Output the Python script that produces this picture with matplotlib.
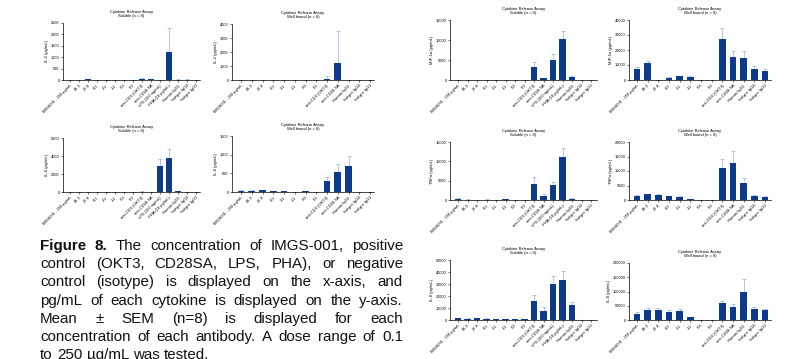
import matplotlib
matplotlib.use("Agg")
import matplotlib.pyplot as plt
import numpy as np

plt.rcParams['font.family'] = ['Liberation Sans', 'DejaVu Sans']

W, H = 810, 359

sol_labels = ["IMGS001 - 250 µg/mL", "83.3", "27.8", "9.3", "3.1", "1.1", "0.3", "0.1",
              "anti-CD3 (OKT3)", "anti-CD28 SA", "LPS (100 ng/mL)", "PHA (10 µg/mL)",
              "Human IgG1", "Isotype IgG4", "Isotype IgG1"]
well_labels = ["IMGS001 - 250 µg/mL", "83.3", "27.8", "9.3", "3.1", "1.1", "0.3", "0.1",
               "anti-CD3 (OKT3)", "anti-CD28 SA", "Human IgG1", "Isotype IgG4", "Isotype IgG1"]

il2_sol = [0, 5, 50, 0, 0, 0, 0, 0, 60, 30, 0, 1250, 20, 20, 0]
il2_sol_err = [0, 0, 10, 0, 0, 0, 0, 0, 20, 10, 0, 1030, 5, 5, 0]
il2_well = [0, 0, 0, 10, 0, 0, 0, 0, 100, 1200, 0, 0, 0]
il2_well_err = [0, 0, 0, 0, 0, 0, 0, 0, 200, 2300, 0, 0, 0]
il6_sol = [0, 0, 0, 10, 0, 10, 0, 0, 50, 0, 2900, 3750, 100, 0, 0]
il6_sol_err = [0, 0, 0, 0, 0, 0, 0, 0, 20, 0, 800, 1050, 30, 0, 0]
il6_well = [40, 40, 45, 25, 20, 5, 20, 5, 290, 530, 690, 5, 5]
il6_well_err = [10, 10, 15, 5, 5, 0, 5, 0, 100, 230, 280, 0, 0]
mip_sol = [0, 0, 0, 0, 0, 0, 0, 0, 3300, 400, 5000, 10200, 800, 0, 0]
mip_sol_err = [0, 0, 0, 0, 0, 0, 0, 0, 1200, 200, 1500, 2000, 300, 0, 0]
mip_well = [7500, 11500, 0, 1500, 2500, 2000, 0, 0, 27500, 15500, 15000, 7500, 6000]
mip_well_err = [1500, 1000, 0, 300, 500, 500, 0, 0, 7500, 4000, 4500, 2000, 1500]
tnf_sol = [300, 100, 50, 100, 50, 150, 50, 0, 4200, 1000, 3800, 11000, 300, 0, 0]
tnf_sol_err = [100, 50, 0, 50, 0, 50, 0, 0, 1800, 600, 800, 2500, 100, 0, 0]
tnf_well = [1400, 1900, 1800, 1300, 1100, 400, 0, 0, 11000, 12800, 5900, 1400, 1100]
tnf_well_err = [300, 300, 300, 200, 200, 100, 0, 0, 3000, 4000, 1800, 300, 200]
il8_sol = [1500, 1200, 1300, 1200, 900, 600, 700, 500, 16000, 7500, 30000, 33000, 12500, 0, 0]
il8_sol_err = [300, 300, 300, 300, 200, 200, 200, 100, 4500, 3500, 6500, 7500, 2500, 0, 0]
il8_well = [22000, 35000, 34000, 27000, 31000, 9000, 0, 0, 58000, 47000, 100000, 38000, 34000]
il8_well_err = [5000, 7000, 8000, 8000, 9000, 2000, 0, 0, 10000, 9000, 45000, 7000, 6000]

caption_lines = [
    "Figure 8. The concentration of IMGS-001, positive",
    "control (OKT3, CD28SA, LPS, PHA), or negative",
    "control (isotype) is displayed on the x-axis, and",
    "pg/mL of each cytokine is displayed on the y-axis.",
    "Mean ± SEM (n=8) is displayed for each",
    "concentration of each antibody. A dose range of 0.1",
    "to 250 µg/mL was tested.",
]

BAR = '#0d3a8a'
ERR = '#8db0e3'

fig = plt.figure(figsize=(W / 100, H / 100), dpi=100)

# panel geometry in pixels: axis_x, first_tick, last_tick, axis_end, y_top, y_zero
panels = [
    (il2_sol, il2_sol_err, sol_labels, "IL-2 (pg/mL)", "Soluble (n = 8)", 2500, 500, (63, 70, 196, 200, 23, 80)),
    (il2_well, il2_well_err, well_labels, "IL-2 (pg/mL)", "Well bound (n = 8)", 4000, 1000, (232, 241, 370, 374, 24, 80)),
    (il6_sol, il6_sol_err, sol_labels, "IL-6 (pg/mL)", "Soluble (n = 8)", 6000, 2000, (63, 70, 196, 200, 138, 192)),
    (il6_well, il6_well_err, well_labels, "IL-6 (pg/mL)", "Well bound (n = 8)", 1500, 500, (232, 241, 370, 374, 136, 192)),
    (mip_sol, mip_sol_err, sol_labels, "MIP-1α (pg/mL)", "Soluble (n = 8)", 15000, 5000, (450, 458, 591, 597, 20, 80)),
    (mip_well, mip_well_err, well_labels, "MIP-1α (pg/mL)", "Well bound (n = 8)", 40000, 10000, (629, 637, 765, 771, 20, 80)),
    (tnf_sol, tnf_sol_err, sol_labels, "TNFα (pg/mL)", "Soluble (n = 8)", 15000, 5000, (450, 458, 591, 597, 142, 200)),
    (tnf_well, tnf_well_err, well_labels, "TNFα (pg/mL)", "Well bound (n = 8)", 20000, 5000, (629, 637, 765, 771, 142, 200)),
    (il8_sol, il8_sol_err, sol_labels, "IL-8 (pg/mL)", "Soluble (n = 8)", 50000, 10000, (450, 458, 591, 597, 260, 320)),
    (il8_well, il8_well_err, well_labels, "IL-8 (pg/mL)", "Well bound (n = 8)", 200000, 50000, (629, 637, 765, 771, 263, 320)),
]

for vals, errs, labels, ylab, sub, ymax, ystep, (ax0, f, l, ae, yt, y0) in panels:
    ax = fig.add_axes([ax0 / W, 1 - y0 / H, (ae - ax0) / W, (y0 - yt) / H])
    n = len(vals)
    sp = (l - f) / (n - 1)
    x = np.arange(n)
    ax.bar(x, vals, width=0.65, color=BAR, zorder=2)
    ax.errorbar(x, vals, yerr=[np.zeros(n), errs], fmt='none', ecolor=ERR,
                elinewidth=0.5, capsize=1.2, capthick=0.5, zorder=1)
    ax.set_xlim(-(f - ax0) / sp, (n - 1) + (ae - l) / sp)
    ax.set_ylim(0, ymax)
    ax.set_yticks(np.arange(0, ymax + 1, ystep))
    ax.set_xticks(x)
    ax.set_xticklabels(labels, rotation=45, ha='right', rotation_mode='anchor', fontsize=2.9)
    ax.tick_params(axis='y', labelsize=2.8, length=1.5, width=0.4, pad=1)
    ax.tick_params(axis='x', length=1.5, width=0.4, pad=1)
    for s in ['top', 'right']:
        ax.spines[s].set_visible(False)
    for s in ['left', 'bottom']:
        ax.spines[s].set_linewidth(0.5)
    ax.set_ylabel(ylab, fontsize=2.9, labelpad=1.5)
    ax.set_title("Cytokine Release Assay\n" + sub, fontsize=2.9, pad=4, linespacing=1.3)

# caption (justified)
renderer = fig.canvas.get_renderer()
left, right = 40, 403
baselines = [250 + 18.2 * i for i in range(len(caption_lines))]
fs = 10.9
for i, (line, yb) in enumerate(zip(caption_lines, baselines)):
    words = line.split(" ")
    texts = []
    for j, w in enumerate(words):
        bold = (i == 0 and j < 2)
        t = fig.text(0, 1 - yb / H, w, fontsize=fs, fontweight='bold' if bold else 'normal',
                     va='baseline', ha='left', color='#111111')
        texts.append(t)
    widths = [t.get_window_extent(renderer).width for t in texts]
    if i < len(caption_lines) - 1:
        gap = (right - left - sum(widths)) / (len(words) - 1)
    else:
        sp_t = fig.text(0, 0, "a a", fontsize=fs)
        sp_a = fig.text(0, 0, "aa", fontsize=fs)
        gap = sp_t.get_window_extent(renderer).width - sp_a.get_window_extent(renderer).width
        sp_t.remove(); sp_a.remove()
    xpos = left
    for t, w in zip(texts, widths):
        t.set_x(xpos / W)
        xpos += w + gap

fig.savefig("out.png", dpi=100)
